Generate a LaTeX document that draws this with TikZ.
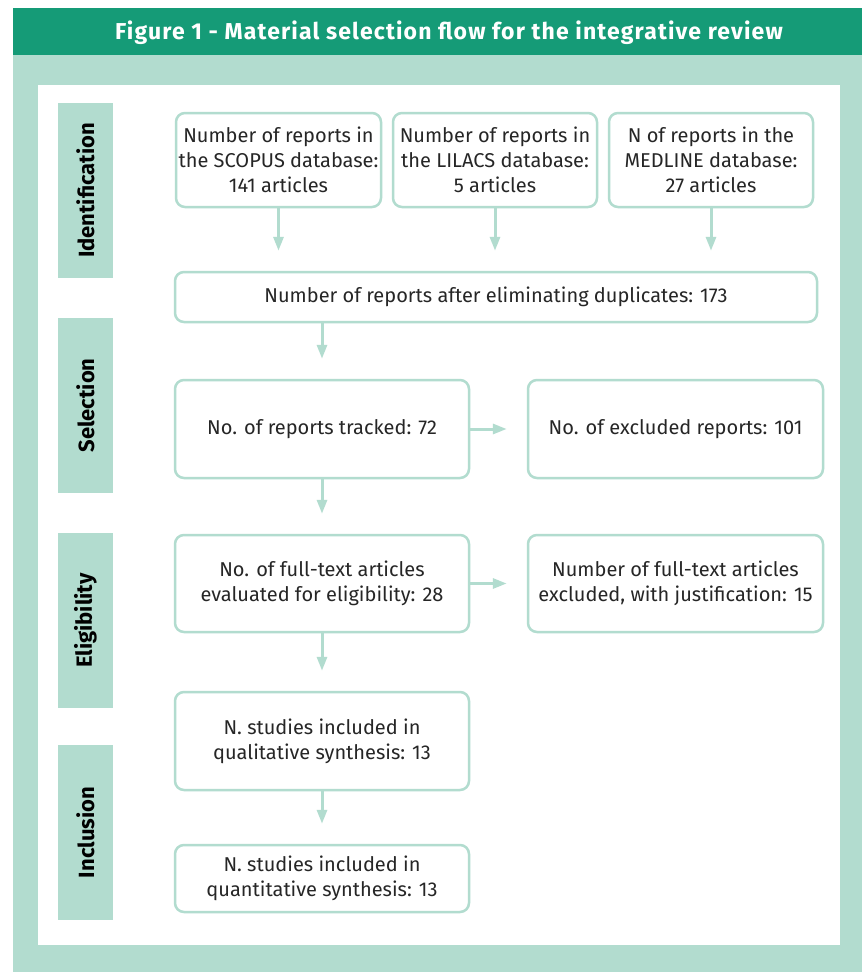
\documentclass[tikz,border=0pt]{standalone}
\usepackage{fontspec}
\setmainfont{Fira Sans}
\newfontfamily\titlefont{Fira Sans}[LetterSpace=5]
\usetikzlibrary{arrows.meta}
\definecolor{bargreen}{HTML}{159B77}
\definecolor{palegreen}{HTML}{B2DCCF}

\begin{document}
\begin{tikzpicture}[
    x=1pt, y=-1pt,
    font=\fontsize{20}{25}\selectfont,  % body text of the boxes
    % Node styles:
    block/.style={rectangle, draw=palegreen, line width=2.5pt, rounded corners=9pt,
                  align=center, inner sep=0pt, text=black!85},
    stage/.style={rectangle, fill=palegreen, rotate=90, inner sep=0pt,
                  minimum width=175pt, minimum height=55pt,
                  font=\fontsize{22}{24}\selectfont\bfseries},
    % Arrow style:
    line/.style={-{Triangle[width=10pt, length=14pt]}, draw=palegreen,
                 line width=3pt, shorten >=20pt},
]
% --- BACKGROUND ---
\fill[white] (0,0) rectangle (862,972);
\fill[palegreen] (13,55) rectangle (862,972);
\fill[bargreen] (13,8) rectangle (862,55);
\fill[white] (38,85) rectangle (840,945);
\useasboundingbox (0,0) rectangle (862,972);

\node[text=white, font=\titlefont\fontsize{23}{25}\selectfont\bfseries] (title) at (449,32.5)
      {Figure 1 - Material selection flow for the integrative review};

% --- STAGES ---
\node[stage] (ident)  at (85.5,190.5) {Identification};
\node[stage] (select) at (85.5,405.5) {Selection};
\node[stage] (elig)   at (85.5,620.5) {Eligibility};
\node[stage] (incl)   at (85.5,832.5) {Inclusion};

% --- NODES ---
\node[block, minimum width=205pt, minimum height=94pt] (scopus)  at (278.5,160)
      {Number of reports in\\the SCOPUS database:\\141 articles};
\node[block, minimum width=204pt, minimum height=94pt] (lilacs)  at (495,160)
      {Number of reports in\\the LILACS database:\\5 articles};
\node[block, minimum width=204pt, minimum height=94pt] (medline) at (711,160)
      {N of reports in the\\MEDLINE database:\\27 articles};
\node[block, minimum width=642pt, minimum height=50pt] (dup)     at (496,297)
      {Number of reports after eliminating duplicates: 173};
\node[block, minimum width=294pt, minimum height=98pt] (tracked) at (322,429)
      {No. of reports tracked: 72};
\node[block, minimum width=295pt, minimum height=98pt] (excl)    at (675.5,429)
      {No. of excluded reports: 101};
\node[block, minimum width=294pt, minimum height=97pt] (full)    at (322,583.5)
      {No. of full-text articles\\evaluated for eligibility: 28};
\node[block, minimum width=295pt, minimum height=97pt] (exclfull) at (675.5,583.5)
      {Number of full-text articles\\excluded, with justification: 15};
\node[block, minimum width=294pt, minimum height=98pt] (qual)    at (322,741)
      {N. studies included in\\qualitative synthesis: 13};
\node[block, minimum width=294pt, minimum height=67pt] (quant)   at (322,878.5)
      {N. studies included in\\quantitative synthesis: 13};

% --- ARROWS ---
% Databases into the merged count
\draw[line] (scopus.south)  -- (scopus.south |- dup.north);
\draw[line] (lilacs.south)  -- (lilacs.south |- dup.north);
\draw[line] (medline.south) -- (medline.south |- dup.north);

% Main top-down path
\draw[line] (dup.south -| tracked.north) -- (tracked.north);
\draw[line] (tracked) -- (full);
\draw[line] (full) -- (qual);
\draw[line] (qual) -- (quant);

% Exclusions to the right
\draw[line] (tracked) -- (excl);
\draw[line] (full) -- (exclfull);

\end{tikzpicture}
\end{document}
